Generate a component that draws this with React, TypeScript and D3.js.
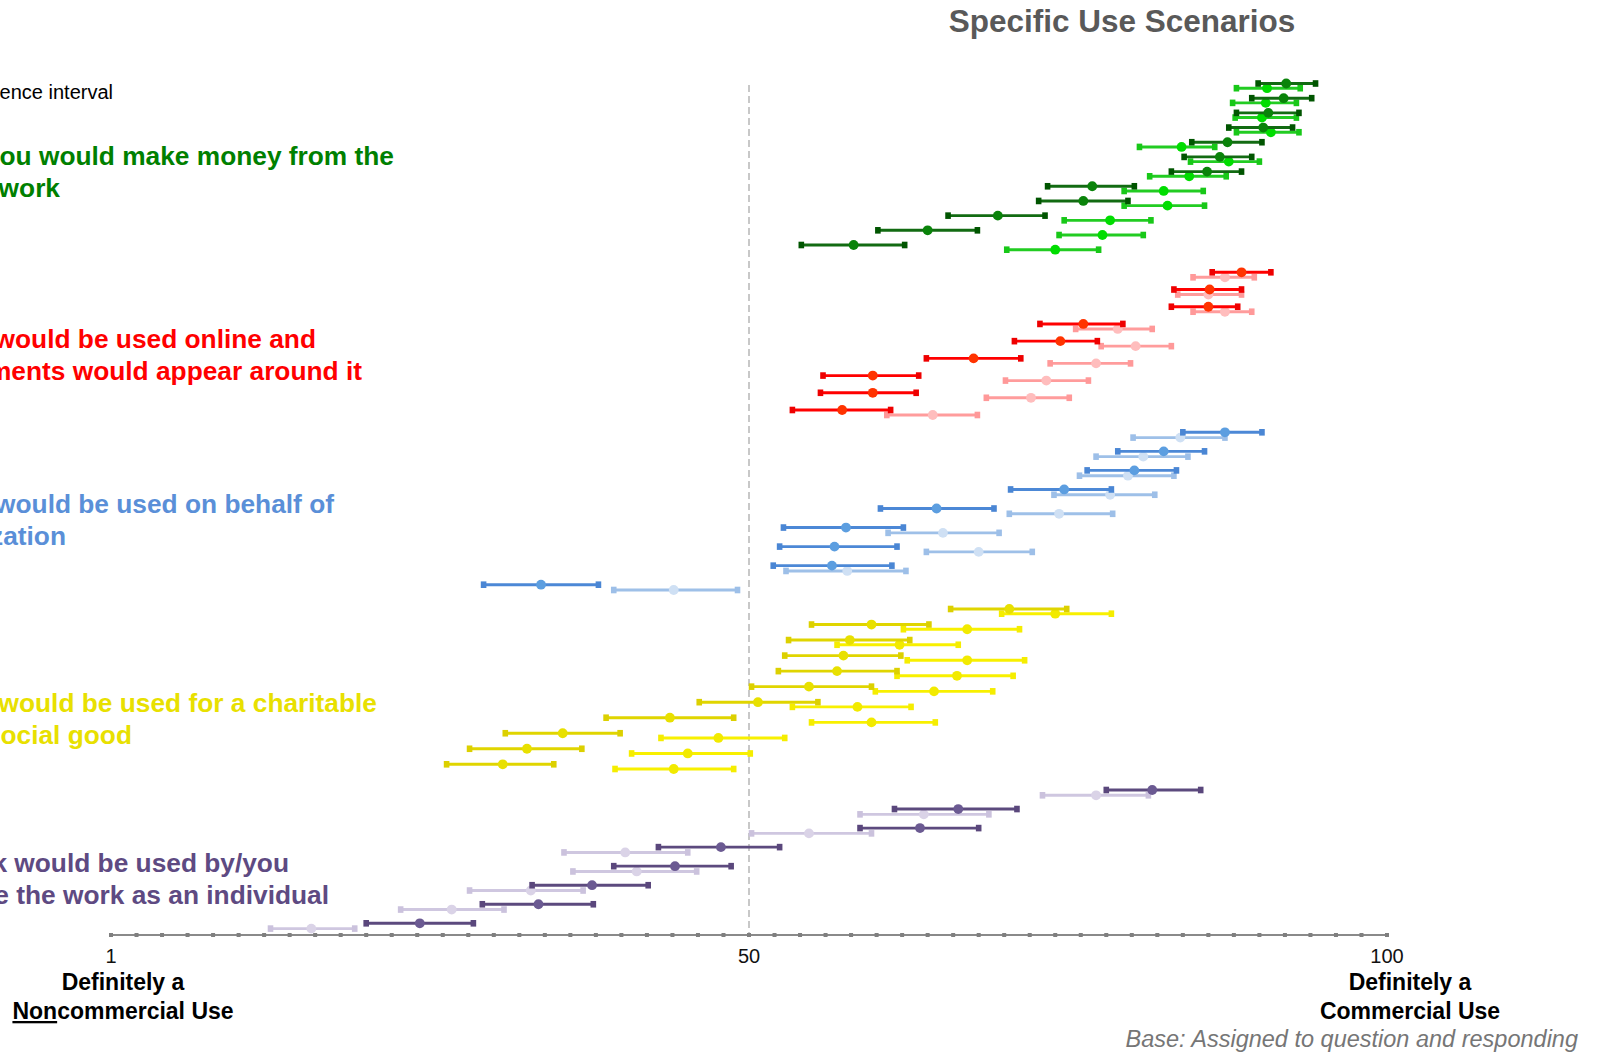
import React from "react";
import * as d3 from "d3";

// ---- Data: [low, mean, high] on a 0–100 scale ----
const greenDark = [
  [89.9, 92.1, 94.4], [89.4, 91.9, 94.1], [88.2, 90.7, 93.1], [87.6, 90.3, 92.6],
  [84.7, 87.5, 90.2], [84.1, 86.9, 89.4], [83.1, 85.9, 88.6], [73.4, 76.9, 80.2],
  [72.7, 76.2, 79.7], [65.6, 69.5, 73.2], [60.1, 64.0, 67.9], [54.1, 58.2, 62.2],
];
const greenLight = [
  [88.2, 90.6, 93.2], [87.9, 90.5, 92.9], [88.1, 90.2, 92.9], [88.2, 90.9, 93.1],
  [80.6, 83.9, 86.5], [84.6, 87.6, 90.0], [81.4, 84.5, 87.4], [79.4, 82.5, 85.6],
  [79.4, 82.8, 85.7], [74.7, 78.3, 81.5], [74.3, 77.7, 80.9], [70.2, 74.0, 77.4],
];
const redDark = [
  [86.3, 88.6, 90.9], [83.3, 86.1, 88.6], [83.1, 86.0, 88.3], [72.8, 76.2, 79.3],
  [70.8, 74.4, 77.3], [63.9, 67.6, 71.3], [55.8, 59.7, 63.3], [55.6, 59.7, 63.1],
  [53.4, 57.3, 61.1],
];
const redLight = [
  [84.8, 87.3, 89.6], [83.6, 86.0, 88.6], [84.8, 87.3, 89.4], [75.6, 78.9, 81.6],
  [77.6, 80.3, 83.1], [73.6, 77.2, 79.9], [70.1, 73.3, 76.6], [68.6, 72.1, 75.1],
  [60.8, 64.4, 67.9],
];
const blueDark = [
  [84.0, 87.3, 90.2], [78.9, 82.5, 85.7], [76.5, 80.2, 83.5], [70.5, 74.7, 78.4],
  [60.3, 64.7, 69.2], [52.7, 57.6, 62.1], [52.4, 56.7, 61.6], [51.9, 56.5, 61.2],
  [29.2, 33.7, 38.2],
];
const blueLight = [
  [80.1, 83.8, 87.3], [77.2, 80.9, 84.4], [75.9, 79.7, 83.3], [73.9, 78.3, 81.8],
  [70.4, 74.3, 78.5], [60.9, 65.2, 69.6], [63.9, 68.0, 72.2], [52.9, 57.7, 62.3],
  [39.4, 44.1, 49.1],
];
const yellowDark = [
  [65.8, 70.4, 74.9], [54.9, 59.6, 64.1], [53.1, 57.9, 62.6], [52.8, 57.4, 61.9],
  [52.3, 56.9, 61.6], [50.2, 54.7, 59.6], [46.1, 50.7, 55.4], [38.8, 43.8, 48.8],
  [30.9, 35.4, 39.9], [28.1, 32.6, 36.9], [26.3, 30.7, 34.7],
];
const yellowLight = [
  [69.8, 74.0, 78.4], [62.1, 67.1, 71.2], [56.9, 61.8, 66.4], [62.4, 67.1, 71.6],
  [61.6, 66.3, 70.7], [59.9, 64.5, 69.1], [53.4, 58.5, 62.7], [54.9, 59.6, 64.6],
  [43.1, 47.6, 52.8], [40.8, 45.2, 50.1], [39.5, 44.1, 48.8],
];
const purpleDark = [
  [78.0, 81.6, 85.4], [61.4, 66.4, 71.0], [58.7, 63.4, 68.0], [42.9, 47.8, 52.4],
  [39.4, 44.2, 48.6], [33.0, 37.7, 42.1], [29.1, 33.5, 37.8], [20.0, 24.2, 28.4],
];
const purpleLight = [
  [73.0, 77.2, 81.3], [58.7, 63.7, 68.8], [50.2, 54.7, 59.6], [35.5, 40.3, 45.2],
  [36.2, 41.2, 45.9], [28.1, 32.9, 37.0], [22.7, 26.7, 30.8], [12.5, 15.7, 19.1],
];

const groupLabels = [
  ["If you would make money from the", "work"],
  ["If the work would be used online and", "advertisements would appear around it"],
  ["If the work would be used on behalf of", "an organization"],
  ["If the work would be used for a charitable", "purpose or social good"],
  ["If the work would be used by/you", "would use the work as an individual"],
];
const axisTickValues = [0, 50, 100];
const axisTickLabels = ["1", "50", "100"];
const minorTicks = d3.range(0, 101, 2);

// ---- Layout / styling ----
const groups = [
  { dark: greenDark, light: greenLight, top: 83.5, bottom: 245, off: 4.7,
    c: { dl: "#126b12", dc: "#005500", dd: "#0a830a", ll: "#22cc22", lc: "#18c818", ld: "#00dd00", t: "#008000" },
    lab: { y: 165, r1: 394, r2: 60 } },
  { dark: redDark, light: redLight, top: 272.3, bottom: 410, off: 5,
    c: { dl: "#ff0000", dc: "#ee0000", dd: "#ff3300", ll: "#ff9c9c", lc: "#ff9999", ld: "#ffbdbd", t: "#ff0000" },
    lab: { y: 348, r1: 316, r2: 362 } },
  { dark: blueDark, light: blueLight, top: 432.3, bottom: 584.7, off: 5.3,
    c: { dl: "#4c88d6", dc: "#4a86d4", dd: "#5c9ee0", ll: "#9ec0e8", lc: "#9dbfe8", ld: "#cfe0f4", t: "#5a8fd8" },
    lab: { y: 513, r1: 334, r2: 66 } },
  { dark: yellowDark, light: yellowLight, top: 609, bottom: 764.3, off: 4.7,
    c: { dl: "#e0d500", dc: "#dcd000", dd: "#e8e000", ll: "#f8f000", lc: "#f5ed00", ld: "#f2ea00", t: "#e8e000" },
    lab: { y: 712, r1: 377, r2: 132 } },
  { dark: purpleDark, light: purpleLight, top: 790, bottom: 923.3, off: 5.3,
    c: { dl: "#5c4a7e", dc: "#5a477c", dd: "#6b5a92", ll: "#cfc7e0", lc: "#cbc2dd", ld: "#dad3e7", t: "#5e4a82" },
    lab: { y: 872, r1: 289, r2: 329 } },
];

const W = 1599, H = 1056;
const axisY = 935;
const x = d3.scaleLinear().domain([0, 100]).range([111, 1387]);
const FONT = "'Liberation Sans', Arial, sans-serif";

function Bar({ d, y, line, cap, dot }) {
  const [lo, m, hi] = d;
  return (
    <g>
      <line x1={x(lo)} x2={x(hi)} y1={y} y2={y} stroke={line} strokeWidth={2.9} />
      <rect x={x(lo) - 2.8} y={y - 3.3} width={5.6} height={6.6} fill={cap} />
      <rect x={x(hi) - 2.8} y={y - 3.3} width={5.6} height={6.6} fill={cap} />
      <circle cx={x(m)} cy={y} r={4.9} fill={dot} />
    </g>
  );
}

export default function App() {
  return (
    <svg width={W} height={H} style={{ position: "absolute", left: 0, top: 0, display: "block", background: "#fff" }}
      fontFamily={FONT}>
      <rect width={W} height={H} fill="#fff" />
      <text x={1122} y={32} textAnchor="middle" fontSize={31.5} fontWeight="bold" fill="#595959">Specific Use Scenarios</text>
      <text x={113} y={99} textAnchor="end" fontSize={20} fill="#000">Horizontal bars = 95% confidence interval</text>

      {groups.map((g, gi) => (
        <g key={"lab" + gi} fontSize={26.3} fontWeight="bold" fill={g.c.t}>
          <text x={g.lab.r1} y={g.lab.y} textAnchor="end">{groupLabels[gi][0]}</text>
          <text x={g.lab.r2} y={g.lab.y + 31.5} textAnchor="end">{groupLabels[gi][1]}</text>
        </g>
      ))}

      <line x1={x(50)} x2={x(50)} y1={85} y2={axisY} stroke="#c8c8c8" strokeWidth={2} strokeDasharray="7,4" />

      {groups.map((g, gi) => {
        const y = d3.scalePoint().domain(d3.range(g.dark.length)).range([g.top, g.bottom]);
        return (
          <g key={"grp" + gi}>
            {g.light.map((d, i) => (
              <Bar key={"l" + i} d={d} y={y(i) + g.off} line={g.c.ll} cap={g.c.lc} dot={g.c.ld} />
            ))}
            {g.dark.map((d, i) => (
              <Bar key={"d" + i} d={d} y={y(i)} line={g.c.dl} cap={g.c.dc} dot={g.c.dd} />
            ))}
          </g>
        );
      })}

      <line x1={x(0)} x2={x(100)} y1={axisY} y2={axisY} stroke="#8a8a8a" strokeWidth={2.2} />
      {minorTicks.map((t) => (
        <rect key={t} x={x(t) - 2} y={axisY - 2} width={4} height={4} fill="#7f7f7f" />
      ))}
      {axisTickValues.map((t, i) => (
        <text key={t} x={x(t)} y={963} textAnchor="middle" fontSize={20} fill="#111">{axisTickLabels[i]}</text>
      ))}

      <g fontSize={23} fontWeight="bold" fill="#000" textAnchor="middle">
        <text x={123} y={990}>Definitely a</text>
        <text x={123} y={1019}><tspan textDecoration="underline">Non</tspan>commercial Use</text>
        <text x={1410} y={990}>Definitely a</text>
        <text x={1410} y={1019}>Commercial Use</text>
      </g>
      <text x={1578} y={1047} textAnchor="end" fontSize={23.5} fontStyle="italic" fill="#767676">
        Base: Assigned to question and responding
      </text>
    </svg>
  );
}
